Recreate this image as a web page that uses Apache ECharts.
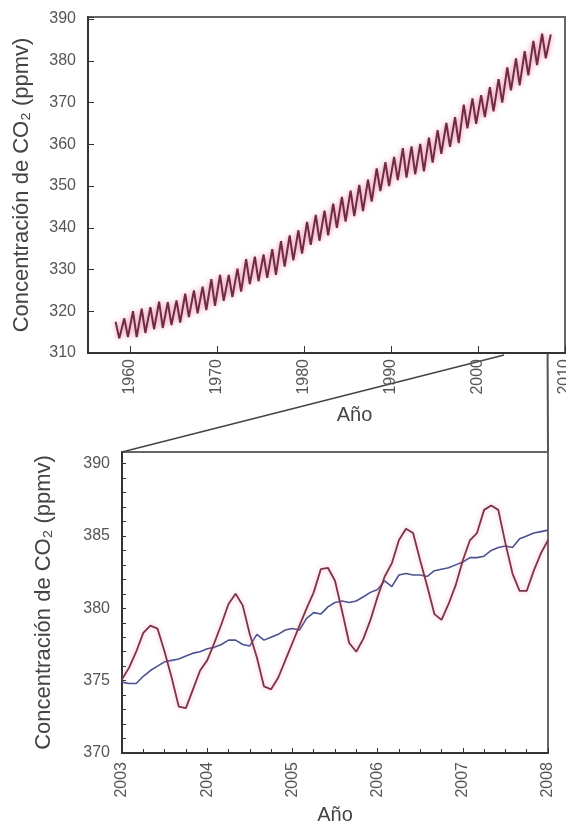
<!DOCTYPE html>
<html>
<head>
<meta charset="utf-8">
<script src="https://cdn.jsdelivr.net/npm/echarts@6/dist/echarts.min.js"></script>
<style>
html, body { margin: 0; padding: 0; background: #fff; }
#chart { width: 566px; height: 823px; }
</style>
</head>
<body>
<div id="chart"></div>
<script>
// top panel: seasonal maxima (May) and minima (Oct), 1958 onwards
var topFirstYear = 1958;
var topMay = [317.5, 318.3, 320.0, 320.6, 321.0, 322.3, 322.2, 322.6, 324.2, 325.0,
  325.9, 327.7, 328.7, 328.7, 330.2, 332.5, 333.1, 333.6, 334.9, 336.8,
  338.2, 339.4, 341.4, 343.1, 344.1, 345.8, 347.4, 348.9, 350.3, 351.5,
  354.2, 355.7, 357.0, 359.1, 359.5, 360.1, 361.6, 363.4, 365.1, 366.5,
  369.5, 371.0, 371.8, 373.7, 375.6, 378.4, 380.6, 382.3, 384.8, 386.5, 386.3];
var topOct = [313.5, 313.8, 313.8, 314.8, 315.7, 316.0, 316.7, 317.3, 318.6, 319.5,
  320.3, 321.3, 322.5, 323.4, 324.7, 326.5, 327.2, 328.0, 328.7, 330.7,
  332.2, 333.8, 335.9, 336.9, 338.2, 340.0, 341.5, 342.8, 344.0, 346.3,
  348.8, 350.0, 351.4, 352.0, 352.8, 353.5, 355.6, 357.7, 359.4, 360.3,
  363.8, 364.9, 366.5, 367.9, 370.0, 372.9, 374.1, 376.5, 379.0, 380.6];
var topXLabels = [1960, 1970, 1980, 1990, 2000, 2010];

// bottom panel: monthly values Jan 2003 .. Jan 2008
var zoomFirstYear = 2003;
var zoomMonthly = [375.1, 375.9, 377.0, 378.3, 378.8, 378.6, 377.0, 375.2, 373.2, 373.1, 374.4, 375.7,
  376.4, 377.6, 378.9, 380.3, 381.0, 380.2, 378.2, 376.6, 374.6, 374.4, 375.2, 376.4,
  377.6, 378.8, 380.0, 381.1, 382.7, 382.8, 381.9, 379.8, 377.6, 377.0, 377.9, 379.2,
  380.8, 382.2, 383.1, 384.7, 385.5, 385.2, 383.3, 381.5, 379.6, 379.2, 380.3, 381.6,
  383.3, 384.7, 385.2, 386.8, 387.1, 386.8, 384.5, 382.4, 381.2, 381.2, 382.6, 383.8,
  384.7];
var zoomTrend = [374.9, 374.8, 374.8, 375.3, 375.7, 376.0, 376.3, 376.4, 376.5, 376.7, 376.9, 377.0,
  377.2, 377.3, 377.5, 377.8, 377.8, 377.5, 377.4, 378.2, 377.8, 378.0, 378.2, 378.5,
  378.6, 378.5, 379.3, 379.7, 379.6, 380.1, 380.4, 380.5, 380.4, 380.5, 380.8, 381.1,
  381.3, 381.9, 381.5, 382.3, 382.4, 382.3, 382.3, 382.2, 382.6, 382.7, 382.8, 383.0,
  383.2, 383.5, 383.5, 383.6, 384.0, 384.2, 384.3, 384.2, 384.8, 385.0, 385.2, 385.3,
  385.4];
var zoomYTicks = [370, 371, 372, 373, 374, 375, 376, 377, 378, 379, 380,
  381, 382, 383, 384, 385, 386, 387, 388, 389, 390];

var yName = 'Concentración de CO₂ (ppmv)';
var font = 'Liberation Sans, Arial, sans-serif';

var topPts = [];
for (var i = 0; i < topMay.length; i++) {
  topPts.push([topFirstYear + i + 0.37, topMay[i]]);
  if (i < topOct.length) topPts.push([topFirstYear + i + 0.79, topOct[i]]);
}
var monthlyPts = [], trendPts = [];
for (var j = 0; j < zoomMonthly.length; j++) {
  monthlyPts.push([zoomFirstYear + j / 12, zoomMonthly[j]]);
  trendPts.push([zoomFirstYear + j / 12, zoomTrend[j]]);
}

var chart = echarts.init(document.getElementById('chart'));

var labelStyle = { color: '#555', fontSize: 16, fontFamily: font };
var nameStyle = { color: '#444', fontSize: 22, fontFamily: font };
function plain(v) { return String(v); }

var option = {
  animation: false,
  grid: [
    { left: 88, top: 17, right: 1, bottom: 470, outerBoundsMode: 'none', show: true, borderColor: '#666', borderWidth: 2 },
    { left: 122, top: 452, right: 18, bottom: 70, outerBoundsMode: 'none', show: true, borderColor: '#666', borderWidth: 2 }
  ],
  xAxis: [{
    gridIndex: 0,
    type: 'value',
    min: 1955.2,
    max: 2010,
    name: 'Año',
    nameLocation: 'middle',
    nameGap: 52,
    nameTextStyle: { color: '#444', fontSize: 20, fontFamily: font, padding: [0, 0, 0, 56] },
    axisLine: { lineStyle: { color: '#333', width: 2 } },
    axisTick: { inside: true, length: 7, customValues: topXLabels, lineStyle: { color: '#333' } },
    axisLabel: Object.assign({ rotate: 90, margin: 6, customValues: topXLabels, formatter: plain }, labelStyle),
    splitLine: { show: false }
  }, {
    gridIndex: 1,
    type: 'value',
    min: 2003,
    max: 2008,
    interval: 1,
    name: 'Año',
    nameLocation: 'middle',
    nameGap: 52,
    nameTextStyle: { color: '#444', fontSize: 20, fontFamily: font },
    axisLine: { lineStyle: { color: '#333', width: 2 } },
    axisTick: { inside: true, length: 5, lineStyle: { color: '#333' } },
    minorTick: { show: true, splitNumber: 4, length: 4, lineStyle: { color: '#333' } },
    axisLabel: Object.assign({ rotate: 90, margin: 9, formatter: plain }, labelStyle),
    splitLine: { show: false }
  }],
  yAxis: [{
    gridIndex: 0,
    type: 'value',
    min: 310,
    max: 390.5,
    interval: 10,
    name: yName,
    nameLocation: 'middle',
    nameGap: 55,
    nameTextStyle: nameStyle,
    axisLine: { lineStyle: { color: '#333', width: 2 } },
    axisTick: { inside: true, length: 6, lineStyle: { color: '#333' } },
    axisLabel: Object.assign({ margin: 12, formatter: function (v) { return v % 10 === 0 ? String(v) : ''; } }, labelStyle),
    splitLine: { show: false }
  }, {
    gridIndex: 1,
    type: 'value',
    min: 370,
    max: 390.8,
    interval: 5,
    name: yName,
    nameLocation: 'middle',
    nameGap: 67,
    nameTextStyle: nameStyle,
    axisLine: { lineStyle: { color: '#333', width: 2 } },
    axisTick: { inside: true, length: 4, customValues: zoomYTicks, lineStyle: { color: '#333' } },
    axisLabel: Object.assign({ margin: 12, formatter: function (v) { return v % 5 === 0 ? String(v) : ''; } }, labelStyle),
    splitLine: { show: false }
  }],
  series: [{
    type: 'line',
    xAxisIndex: 0,
    yAxisIndex: 0,
    data: topPts,
    showSymbol: false,
    lineStyle: { color: '#6e2c42', width: 2, shadowColor: 'rgba(230,100,150,0.85)', shadowBlur: 5 }
  }, {
    type: 'line',
    xAxisIndex: 1,
    yAxisIndex: 1,
    data: trendPts,
    showSymbol: false,
    lineStyle: { color: '#4a5290', width: 1.6 }
  }, {
    type: 'line',
    xAxisIndex: 1,
    yAxisIndex: 1,
    data: monthlyPts,
    showSymbol: false,
    lineStyle: { color: '#7e3448', width: 1.8, shadowColor: 'rgba(235,130,160,0.6)', shadowBlur: 5 }
  }]
};
chart.setOption(option);

// zoom connector lines between the panels
var a = chart.convertToPixel({ gridIndex: 0 }, [2003, 310]);
var b = chart.convertToPixel({ gridIndex: 1 }, [2003, 390.8]);
var c = chart.convertToPixel({ gridIndex: 0 }, [2008, 310]);
var d = chart.convertToPixel({ gridIndex: 1 }, [2008, 390.8]);
chart.setOption({
  graphic: [
    { type: 'line', shape: { x1: a[0], y1: a[1] + 2, x2: b[0], y2: b[1] }, style: { stroke: '#444', lineWidth: 1.5 } },
    { type: 'line', shape: { x1: c[0], y1: c[1], x2: d[0], y2: d[1] }, style: { stroke: '#555', lineWidth: 2 } }
  ]
});
</script>
</body>
</html>
